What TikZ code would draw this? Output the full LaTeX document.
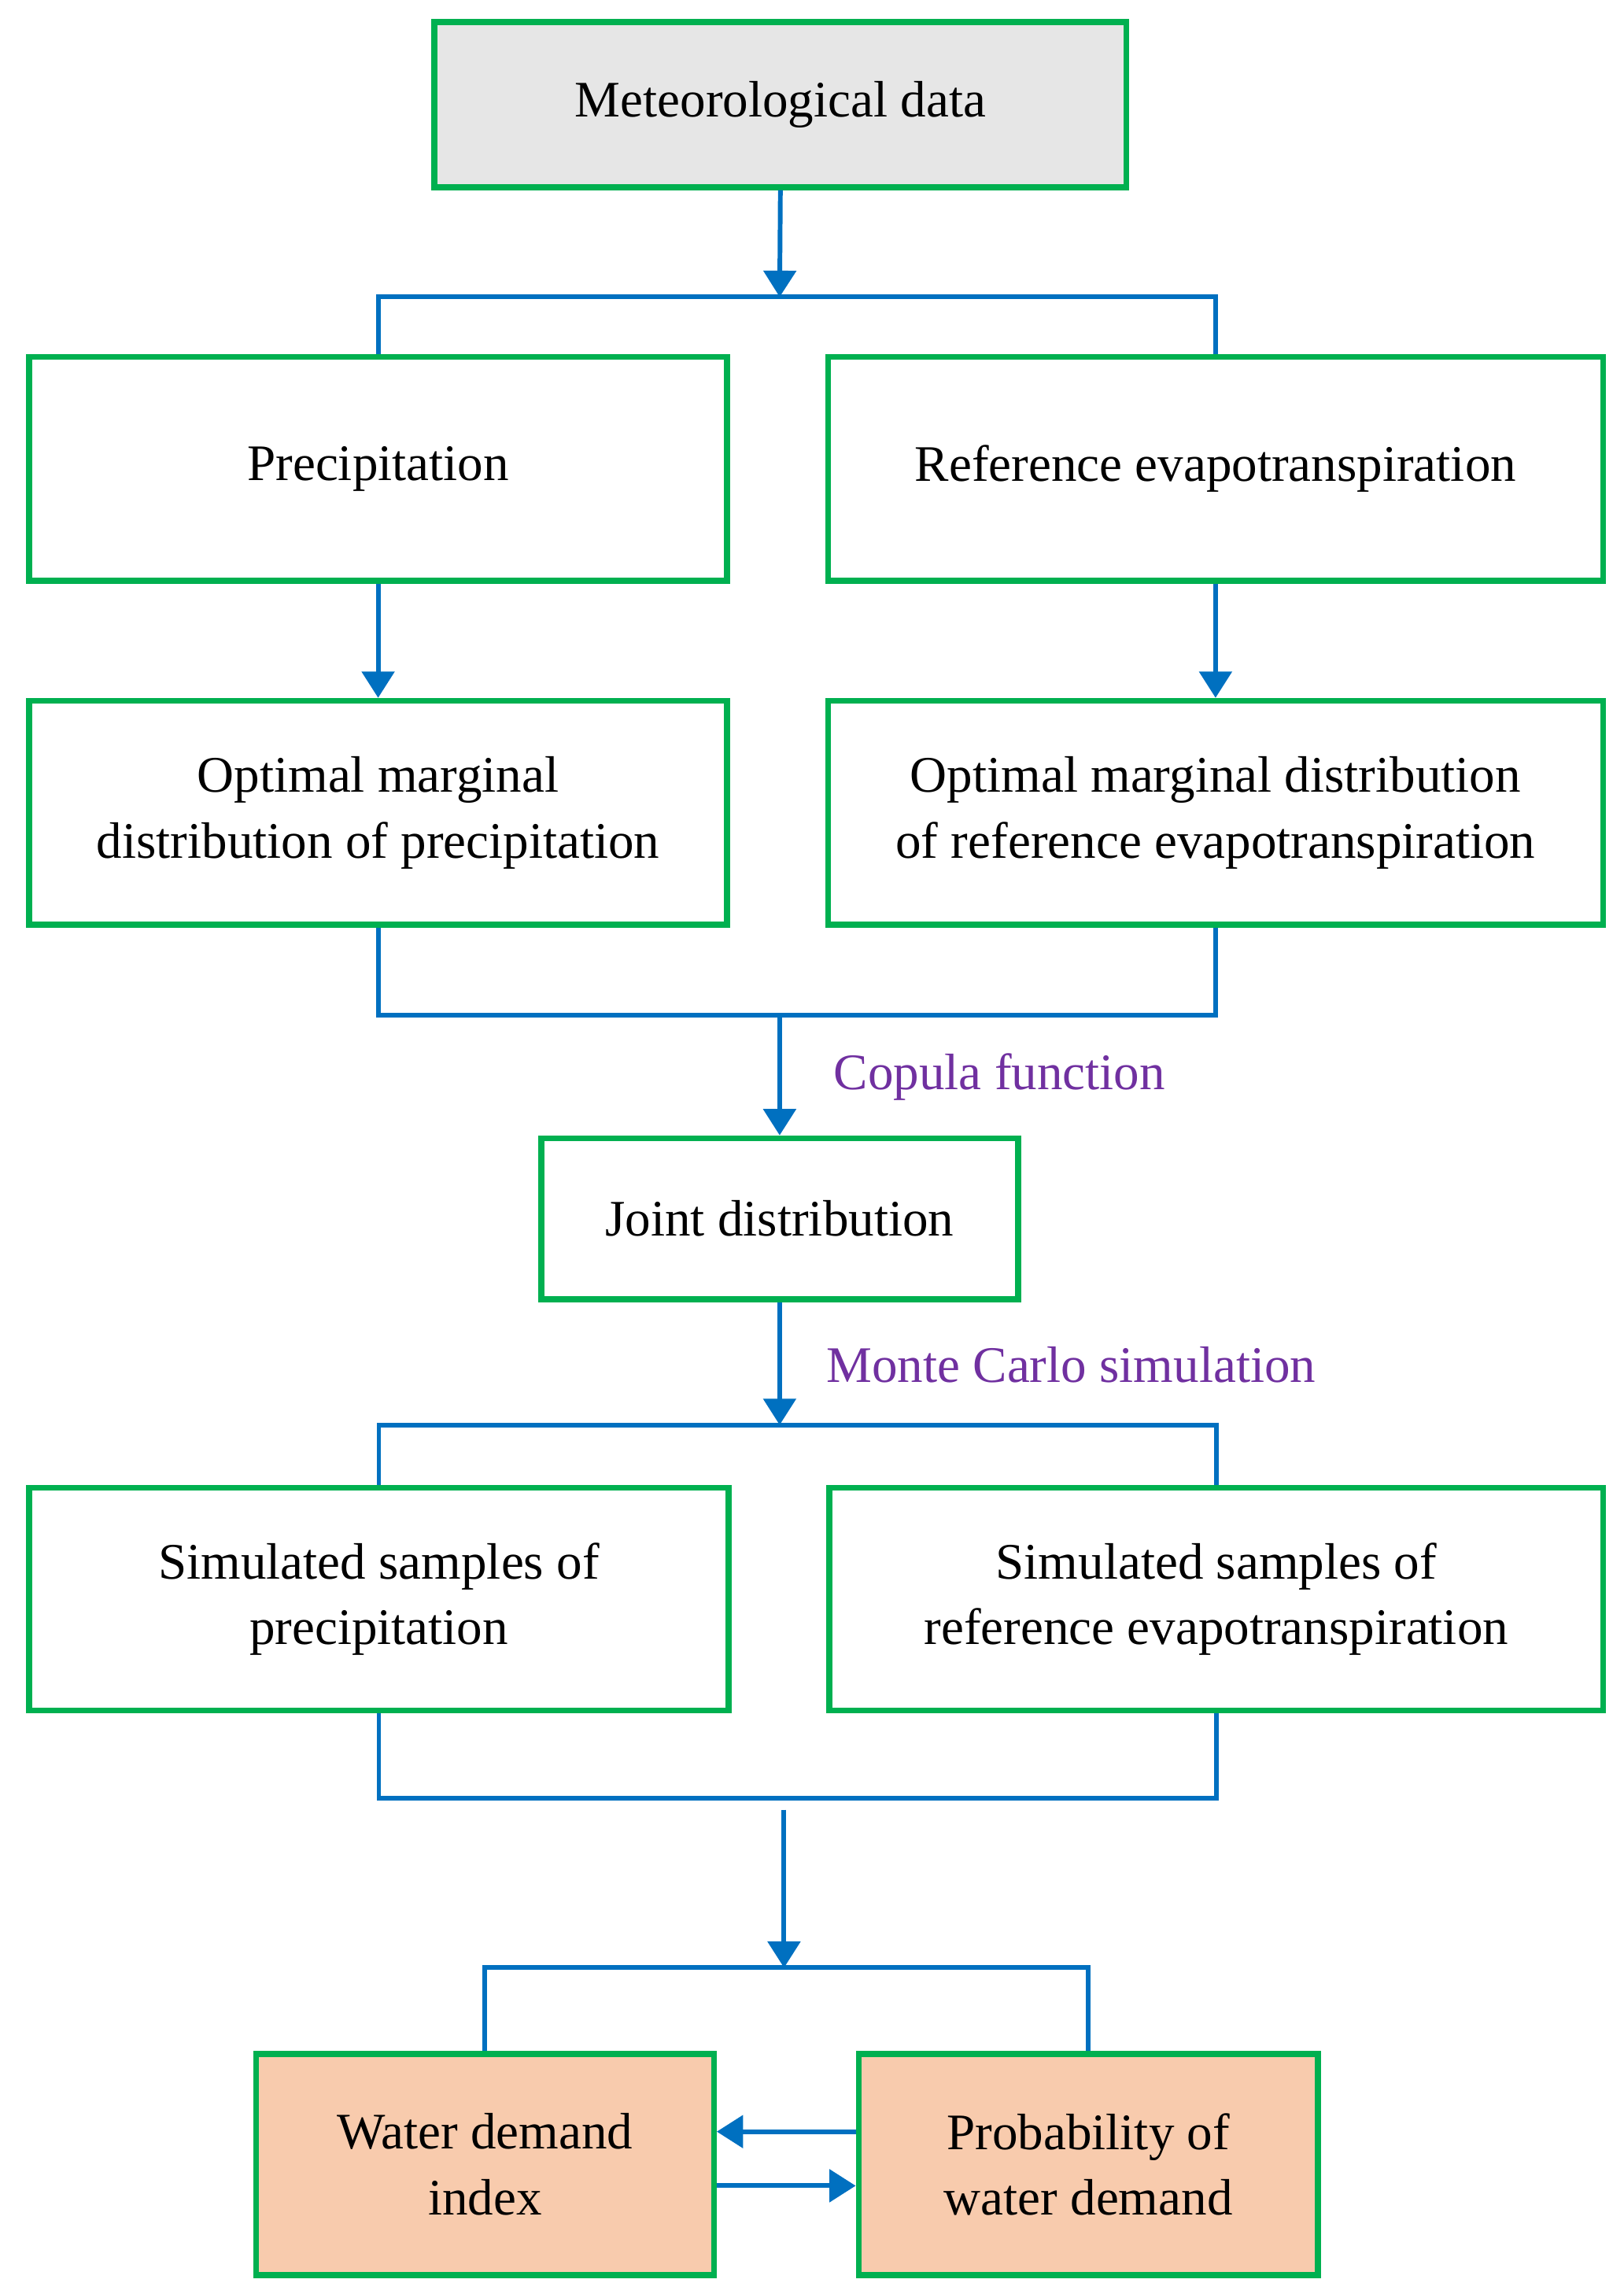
\documentclass[tikz,border=0pt]{standalone}
\usepackage{fontspec}
\setmainfont{Liberation Serif}
\usetikzlibrary{arrows.meta}
\definecolor{gb}{RGB}{0,176,80}
\definecolor{bl}{RGB}{0,112,192}
\definecolor{pu}{RGB}{112,48,160}
\definecolor{gr}{RGB}{230,230,230}
\definecolor{pe}{RGB}{248,203,173}
\begin{document}
\begin{tikzpicture}[x=0.5pt,y=-0.5pt,
 box/.style={draw=gb,line width=2pt,align=center,font=\fontsize{17.5}{22.5}\selectfont,inner sep=0pt},
 ln/.style={draw=bl,line width=1.6pt},
 arr/.style={ln,-{Triangle[length=9pt,width=11pt]}},
 lab/.style={text=pu,font=\fontsize{17.5}{22}\selectfont,anchor=west}]
\useasboundingbox (0,0) rectangle (1110,1568);
\node[box,fill=gr,minimum width=236.5pt,minimum height=56.5pt] (met) at (533.5,71.5) {Meteorological data};
\node[box,minimum width=238.5pt,minimum height=76.5pt] (pre) at (258.5,320.5) {Precipitation};
\node[box,minimum width=265pt,minimum height=76.5pt] (ret) at (831,320.5) {Reference evapotranspiration};
\node[box,minimum width=238.5pt,minimum height=76.5pt] (op) at (258.5,555.5) {Optimal marginal\\distribution of precipitation};
\node[box,minimum width=265pt,minimum height=76.5pt] (or) at (831,555.5) {Optimal marginal distribution\\of reference evapotranspiration};
\node[box,minimum width=163pt,minimum height=55pt] (jd) at (533,833) {Joint distribution};
\node[box,minimum width=239pt,minimum height=76pt] (sp) at (259,1093) {Simulated samples of\\precipitation};
\node[box,minimum width=264.5pt,minimum height=76pt] (sr) at (831.5,1093) {Simulated samples of\\reference evapotranspiration};
\node[box,fill=pe,minimum width=156.5pt,minimum height=75.5pt] (wd) at (331.5,1479.5) {Water demand\\index};
\node[box,fill=pe,minimum width=157pt,minimum height=75.5pt] (pw) at (744,1479.5) {Probability of\\water demand};
\coordinate (b1) at (533,203);
\coordinate (m1) at (533,694);
\coordinate (b2) at (533,974);
\coordinate (m2) at (536,1229);
\coordinate (m2s) at (536,1237);
\coordinate (b3) at (536,1345);
\draw[arr] (met.south) -- (b1);
\draw[ln] (pre.north) |- (b1) -| (ret.north);
\draw[arr] (pre.south) -- (op.north);
\draw[arr] (ret.south) -- (or.north);
\draw[ln] (op.south) |- (m1) -| (or.south);
\draw[arr] (m1) -- (jd.north);
\node[lab] (cf) at (563,736) {Copula function};
\draw[arr] (jd.south) -- (b2);
\node[lab] (mc) at (558,933) {Monte Carlo simulation};
\draw[ln] (sp.north) |- (b2) -| (sr.north);
\draw[ln] (sp.south) |- (m2) -| (sr.south);
\draw[arr] (m2s) -- (b3);
\draw[ln] (wd.north) |- (b3) -| (pw.north);
\draw[arr] (pw.west |- 0,1457) -- (wd.east |- 0,1457);
\draw[arr] (wd.east |- 0,1494) -- (pw.west |- 0,1494);
\end{tikzpicture}
\end{document}
